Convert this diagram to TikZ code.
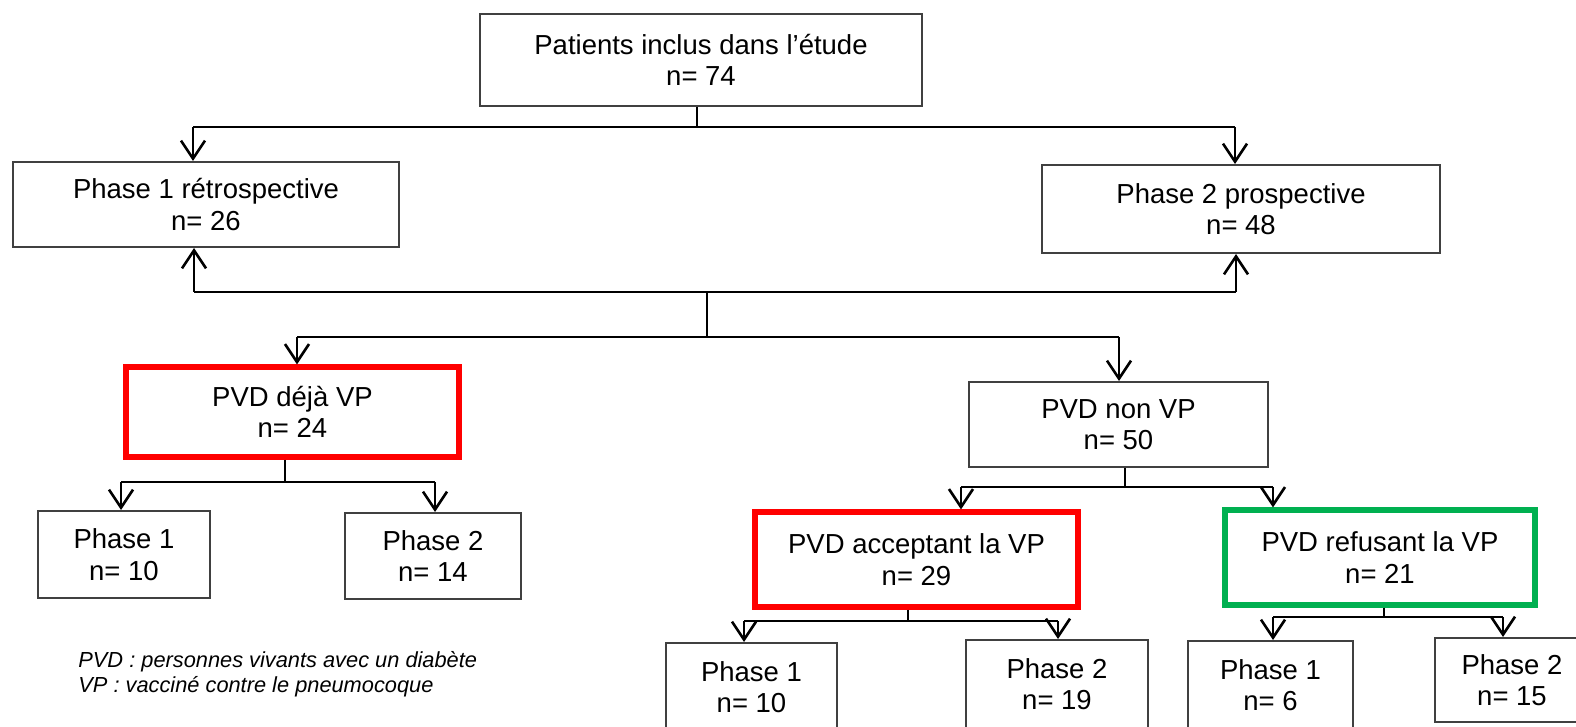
\documentclass[tikz,border=0pt]{standalone}
\usepackage{fontspec}
\setmainfont{Liberation Sans}
\usetikzlibrary{arrows.meta}
\definecolor{offgreen}{RGB}{0,176,80}
\definecolor{boxgray}{RGB}{64,64,64}
\tikzset{
  box/.style={draw=boxgray, line width=1pt, rectangle, inner sep=0pt, align=center,
    font=\fontsize{13.75pt}{15.8pt}\selectfont},
  redbox/.style={box, draw=red, line width=2.6pt},
  greenbox/.style={box, draw=offgreen, line width=2.6pt},
  conn/.style={draw=black, line width=1.3pt},
  arr/.style={conn, -{Straight Barb[length=9pt,width=12pt,line width=1.3pt]}},
  legend/.style={font=\fontsize{10.9pt}{12.5pt}\selectfont\itshape, inner sep=0pt, anchor=base west}
}
\begin{document}
\begin{tikzpicture}[x=0.5pt,y=-0.5pt]
\useasboundingbox[fill=white] (0,0) rectangle (1576,727);

% nodes
\node[box, minimum width=221pt, minimum height=46pt] (T) at (701,60) {Patients inclus dans l’étude\\n= 74};
\node[box, minimum width=193pt, minimum height=42.5pt] (P1) at (206,204.5) {Phase 1 rétrospective\\n= 26};
\node[box, minimum width=199pt, minimum height=44pt] (P2) at (1241,209) {Phase 2 prospective\\n= 48};
\node[redbox, minimum width=166.5pt, minimum height=45pt] (R1) at (292.5,412) {PVD déjà VP\\n= 24};
\node[box, minimum width=86pt, minimum height=43.5pt] (A1) at (124,554.5) {Phase 1\\n= 10};
\node[box, minimum width=88pt, minimum height=43pt] (A2) at (433,556) {Phase 2\\n= 14};
\node[box, minimum width=149.5pt, minimum height=42.5pt] (N) at (1118.5,424.5) {PVD non VP\\n= 50};
\node[redbox, minimum width=161.5pt, minimum height=47.5pt] (R2) at (916.5,559.5) {PVD acceptant la VP\\n= 29};
\node[greenbox, minimum width=155pt, minimum height=47.5pt] (G) at (1380,557.5) {PVD refusant la VP\\n= 21};
\node[box, minimum width=85.5pt, minimum height=44pt] (B1) at (751.5,687) {Phase 1\\n= 10};
\node[box, minimum width=91pt, minimum height=44pt] (B2) at (1057,684) {Phase 2\\n= 19};
\node[box, minimum width=82.5pt, minimum height=44pt] (C1) at (1270.5,685) {Phase 1\\n= 6};
\node[box, minimum width=77pt, minimum height=42pt] (C2) at (1512,680) {Phase 2\\n= 15};

\node[legend] (leg1) at (78,667) {PVD : personnes vivants avec un diabète};
\node[legend] (leg2) at (78,692) {VP : vacciné contre le pneumocoque};

% top split
\coordinate (t0) at (697,127);
\coordinate (tL) at (193,127);
\coordinate (tR) at (1235,127);
\draw[conn] (T.south -| t0) -- (t0);
\draw[conn] (tL) -- (tR);
\draw[arr] (tL) -- (tL |- P1.north);
\draw[arr] (tR) -- (tR |- P2.north);

% phases back up / split down
\coordinate (uL) at (194,292);
\coordinate (uR) at (1236,292);
\coordinate (uM) at (707,292);
\coordinate (dM) at (707,337);
\coordinate (dL) at (297,337);
\coordinate (dR) at (1119,337);
\draw[conn] (uL) -- (uR);
\draw[arr] (uL) -- (uL |- P1.south);
\draw[arr] (uR) -- (uR |- P2.south);
\draw[conn] (uM) -- (dM);
\draw[conn] (dL) -- (dR);
\draw[arr] (dL) -- (dL |- R1.north);
\draw[arr] (dR) -- (dR |- N.north);

% R1 split
\coordinate (r1j) at (285,482);
\coordinate (r1L) at (121,482);
\coordinate (r1R) at (435,482);
\draw[conn] (R1.south -| r1j) -- (r1j);
\draw[conn] (r1L) -- (r1R);
\draw[arr] (r1L) -- (r1L |- A1.north);
\draw[arr] (r1R) -- (r1R |- A2.north);

% N split
\coordinate (nj) at (1125,487);
\coordinate (nL) at (961,487);
\coordinate (nR) at (1273,487);
\draw[conn] (N.south -| nj) -- (nj);
\draw[conn] (nL) -- (nR);
\draw[arr] (nL) -- (nL |- R2.north);
\draw[arr] (nR) -- (nR |- G.north);

% R2 split
\coordinate (r2j) at (908,621);
\coordinate (r2L) at (744,621);
\coordinate (r2R) at (1058,621);
\draw[conn] (R2.south -| r2j) -- (r2j);
\draw[conn] (r2L) -- (r2R);
\draw[arr] (r2L) -- (r2L |- B1.north);
\draw[arr] (r2R) -- (r2R |- B2.north);

% G split
\coordinate (gj) at (1384,617);
\coordinate (gL) at (1273,617);
\coordinate (gR) at (1503,617);
\draw[conn] (G.south -| gj) -- (gj);
\draw[conn] (gL) -- (gR);
\draw[arr] (gL) -- (gL |- C1.north);
\draw[arr] (gR) -- (gR |- C2.north);
\end{tikzpicture}
\end{document}
